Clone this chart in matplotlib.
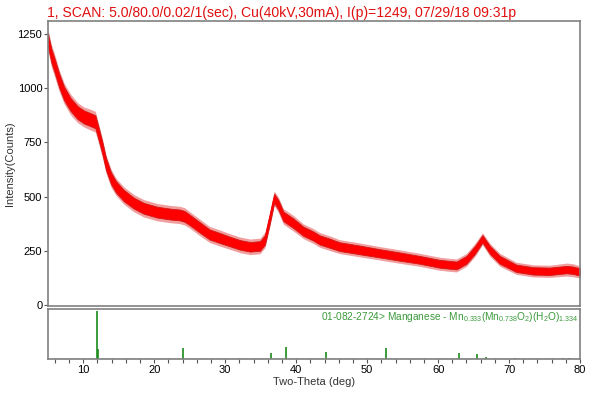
import matplotlib
matplotlib.use("Agg")
import matplotlib.pyplot as plt
import numpy as np

plt.rcParams['font.family'] = ['Liberation Sans', 'DejaVu Sans']
plt.rcParams['mathtext.fontset'] = 'custom'
plt.rcParams['mathtext.rm'] = 'Liberation Sans'
plt.rcParams['mathtext.default'] = 'rm'

# scan trace (centre of the noisy band, half width of the
# solid band, and how far the spikes reach out from the centre)
two_theta = [5.0, 5.5, 6.0, 6.6, 7.3, 8.2, 9.2, 10.1, 11.0, 11.7, 12.2, 12.7, 13.2,
             13.9, 14.6, 15.7, 17.1, 18.5, 20.4, 22.3, 23.6, 24.3, 25.0, 26.4, 27.8,
             29.3, 30.7, 32.1, 33.5, 34.9, 35.6, 36.3, 36.9, 37.5, 38.2, 39.6, 41.0,
             42.4, 43.3, 44.7, 46.1, 48.9, 51.8, 54.6, 57.4, 60.2, 61.6, 62.6, 64.0,
             65.2, 66.25, 67.3, 68.7, 71.0, 73.4, 75.7, 78.1, 79.0, 80.0]
counts = [1225, 1150, 1100, 1035, 975, 925, 887, 867, 855, 845, 785, 722, 650,
          585, 545, 505, 470, 446, 428, 419, 415, 408, 392, 358, 325,
          308, 292, 277, 268, 272, 300, 400, 492, 461, 408, 377, 340,
          318, 300, 285, 269, 254, 238, 223, 208, 190, 185, 182, 208,
          254, 305, 254, 208, 169, 157, 155, 163, 160, 152]
spread = [30, 32, 32, 32, 31, 30, 30, 30, 30, 30, 29, 28, 28,
          27, 26, 26, 25, 25, 25, 25, 25, 25, 24, 24, 23,
          23, 22, 22, 22, 22, 22, 22, 21, 22, 22, 22, 21,
          21, 21, 21, 20, 20, 19, 19, 18, 18, 18, 18, 18,
          18, 17, 18, 18, 17, 17, 17, 17, 17, 17]
spikes = [48, 52, 52, 50, 48, 48, 46, 46, 48, 48, 45, 44, 42,
          42, 40, 40, 40, 40, 40, 40, 40, 40, 38, 38, 37,
          37, 36, 36, 36, 36, 36, 36, 34, 36, 36, 36, 34,
          34, 34, 34, 32, 32, 31, 31, 30, 30, 30, 30, 30,
          30, 28, 30, 30, 28, 28, 28, 30, 30, 28]

# reference pattern 01-082-2724 (stick positions and relative heights)
ref_pos = [12.0, 12.1, 24.1, 36.4, 38.5, 44.15, 52.6, 62.9, 65.5, 66.8, 70.8, 77.6, 78.5]
ref_int = [100, 21, 23, 13, 24, 15, 23, 13, 11, 4, 2, 2, 2]

title = "1, SCAN: 5.0/80.0/0.02/1(sec), Cu(40kV,30mA), I(p)=1249, 07/29/18 09:31p"
ref_label = "01-082-2724> Manganese - Mn$_{0.333}$(Mn$_{0.738}$O$_2$)(H$_2$O)$_{1.334}$"

fig = plt.figure(figsize=(6, 3.99), dpi=100)
ax = fig.add_axes([0.0797, 0.2331, 0.8870, 0.7143])
ax2 = fig.add_axes([0.0797, 0.1003, 0.8870, 0.1253])

x = np.array(two_theta)
y = np.array(counts)
s = np.array(spread)
k = np.array(spikes)
ax.fill_between(x, y - k, y + k, color='#e02828', alpha=0.45, linewidth=0)
ax.fill_between(x, y - s, y + s, color='#ff0000', edgecolor='#d01818', linewidth=0.6)
ax.plot(x, y, color='#ff0000', linewidth=1.0)

ax.set_xlim(5, 80)
ax.set_ylim(-5, 1310)
ax.set_yticks([0, 250, 500, 750, 1000, 1250])
ax.set_xticks([])
ax.tick_params(axis='y', direction='out', length=3, width=0.8, color='#555555',
               labelsize=8, pad=1)
ax.set_ylabel("Intensity(Counts)", fontsize=8, color='#333333', labelpad=2)
for sp in ax.spines.values():
    sp.set_color('#808080')
    sp.set_linewidth(1.2)
fig.text(0.079, 0.968, title, color='#e01010', fontsize=10.1, va='center', ha='left')

ax2.vlines(ref_pos, 0, ref_int, color='#1a8a1a', linewidth=1.2)
ax2.axhline(0, color='#1a8a1a', linewidth=1.0)
ax2.set_xlim(5, 80)
ax2.set_ylim(0, 104)
ax2.set_yticks([])
ax2.set_xticks(range(10, 81, 10))
ax2.set_xticks(range(6, 80, 2), minor=True)
ax2.tick_params(axis='x', which='both', direction='out', length=3, width=0.8,
                color='#555555', labelsize=8, pad=1.5)
ax2.set_xlabel("Two-Theta (deg)", fontsize=8, color='#333333', labelpad=1)
ax2.text(0.997, 0.84, ref_label, transform=ax2.transAxes, ha='right', va='center',
         color='#3c9a3c', fontsize=7.3)
for sp in ax2.spines.values():
    sp.set_color('#808080')
    sp.set_linewidth(1.2)

fig.savefig("out.png", dpi=100)
